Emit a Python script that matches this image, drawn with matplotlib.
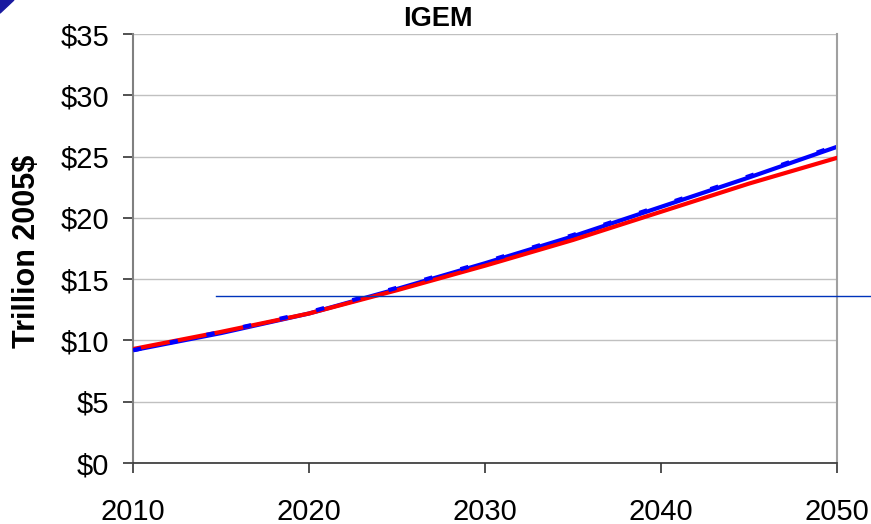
import matplotlib
matplotlib.use('Agg')
import matplotlib.pyplot as plt
from matplotlib.patches import Polygon

years = [2010, 2015, 2020, 2025, 2030, 2035, 2040, 2045, 2050]
blue_vals = [9.2, 10.6, 12.2, 14.2, 16.3, 18.5, 20.9, 23.3, 25.8]
red_vals = [9.3, 10.7, 12.2, 14.1, 16.1, 18.2, 20.5, 22.8, 24.9]
blue_dash = [9.2, 10.7, 12.3, 14.3, 16.4, 18.6, 21.0, 23.4, 25.9]
y_ticks = [0, 5, 10, 15, 20, 25, 30, 35]
x_ticks = [2010, 2020, 2030, 2040, 2050]
hline_val = 13.6

plt.rcParams['font.family'] = ['Liberation Sans', 'DejaVu Sans']

fig = plt.figure(figsize=(8.71, 5.24), dpi=100)
ax = fig.add_axes([0.1527, 0.1164, 0.8083, 0.8186])

ax.plot(years, red_vals, color='#ff0000', lw=3, zorder=3)
ax.plot(years, blue_vals, color='#0000ff', lw=3, zorder=2)
ax.plot(years, blue_dash, color='#0000ff', lw=3, ls=(0, (2, 7)), zorder=4)

ax.set_xlim(2010, 2050)
ax.set_ylim(0, 35)
ax.set_xticks(x_ticks)
ax.set_yticks(y_ticks)
ax.set_yticklabels(['$' + str(v) for v in y_ticks])
ax.tick_params(axis='both', labelsize=21, direction='out', length=7, width=1.2, color='#333333')
ax.tick_params(axis='x', pad=18)
ax.tick_params(axis='y', pad=10)
ax.grid(axis='y', color='#c0c0c0', lw=1)
ax.set_axisbelow(True)

ax.spines['top'].set_visible(False)
ax.spines['right'].set_color('#a0a0a0')
ax.spines['right'].set_linewidth(1.5)
ax.spines['left'].set_color('#808080')
ax.spines['left'].set_linewidth(1.5)
ax.spines['bottom'].set_color('#333333')
ax.spines['bottom'].set_linewidth(1.2)

fig.text(0.031, 0.52, 'Trillion 2005$', fontsize=22, fontweight='bold',
         rotation=90, ha='center', va='center')
fig.text(0.503, 0.963, 'IGEM', fontsize=19.5, fontweight='bold', ha='center', va='center')

# thin horizontal reference line running past the plot edge
ax.plot([2014.7, 2052], [hline_val, hline_val], color='#0033bb', lw=1, clip_on=False, zorder=5)

# corner decoration
fig.patches.append(Polygon([[0, 1], [0.016, 1], [0, 0.975]], closed=True,
                           transform=fig.transFigure, color='#1a1aa0', figure=fig))

fig.savefig('out.png', dpi=100)
